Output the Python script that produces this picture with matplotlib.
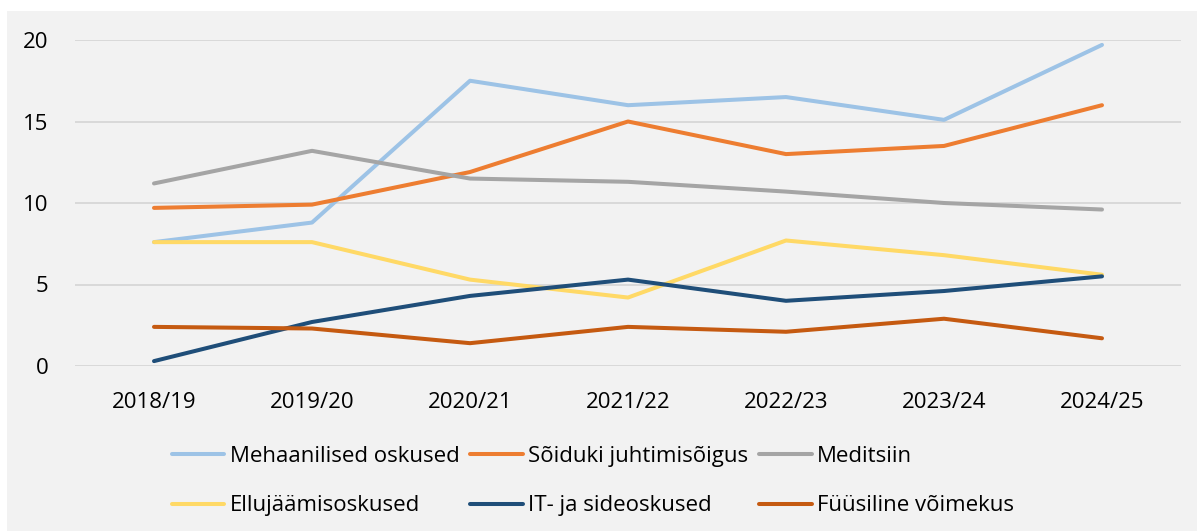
import matplotlib
matplotlib.use("Agg")
import matplotlib.pyplot as plt
from matplotlib.patches import Rectangle

plt.rcParams['font.family'] = ['Open Sans', 'DejaVu Sans']

years = ["2018/19", "2019/20", "2020/21", "2021/22", "2022/23", "2023/24", "2024/25"]
mehaanilised = [7.6, 8.8, 17.5, 16.0, 16.5, 15.1, 19.7]
soiduki = [9.7, 9.9, 11.9, 15.0, 13.0, 13.5, 16.0]
meditsiin = [11.2, 13.2, 11.5, 11.3, 10.7, 10.0, 9.6]
ellujaamis = [7.6, 7.6, 5.3, 4.2, 7.7, 6.8, 5.6]
it_side = [0.3, 2.7, 4.3, 5.3, 4.0, 4.6, 5.5]
fuusiline = [2.4, 2.3, 1.4, 2.4, 2.1, 2.9, 1.7]

series = [
    ("Mehaanilised oskused", mehaanilised, "#9DC3E6"),
    ("Sõiduki juhtimisõigus", soiduki, "#ED7D31"),
    ("Meditsiin", meditsiin, "#A5A5A5"),
    ("Ellujäämisoskused", ellujaamis, "#FFD966"),
    ("IT- ja sideoskused", it_side, "#1F4E79"),
    ("Füüsiline võimekus", fuusiline, "#C55A11"),
]

W, H = 1197, 531
fig = plt.figure(figsize=(W / 100, H / 100), dpi=100, facecolor="white")
fig.patches.append(Rectangle((7 / W, 0), 1 - 7 / W, (H - 11) / H, transform=fig.transFigure,
                             facecolor="#F2F2F2", edgecolor="none", zorder=-10))

ax = fig.add_axes([75 / W, (H - 366) / H, (1181 - 75) / W, (366 - 40) / H])
ax.set_facecolor("none")
ax.set_zorder(1)
x = list(range(len(years)))
for name, vals, col in series:
    ax.plot(x, vals, color=col, lw=2.9, label=name, solid_capstyle="round",
            solid_joinstyle="round", clip_on=False, zorder=3)

ax.set_xlim(-0.5, len(years) - 0.5)
ax.set_ylim(0, 20)
ax.set_yticks([0, 5, 10, 15, 20])
ax.set_xticks(x)
ax.set_xticklabels(years)
ax.yaxis.grid(True, color="#D9D9D9", lw=1.4)
ax.set_axisbelow(True)
for s in ax.spines.values():
    s.set_visible(False)
ax.tick_params(axis="both", length=0, labelsize=16, colors="black")
ax.tick_params(axis="y", pad=19)
ax.tick_params(axis="x", pad=19)

handles, labels = ax.get_legend_handles_labels()
order = [0, 3, 1, 4, 2, 5]
leg = fig.legend([handles[i] for i in order], [labels[i] for i in order], ncol=3, loc="center",
                 bbox_to_anchor=(593 / W, 1 - 481 / H),
                 frameon=False, fontsize=16, handlelength=2.35, handletextpad=0.25,
                 columnspacing=0.5, labelspacing=1.3)

fig.savefig("out.png", dpi=100, facecolor="white")
